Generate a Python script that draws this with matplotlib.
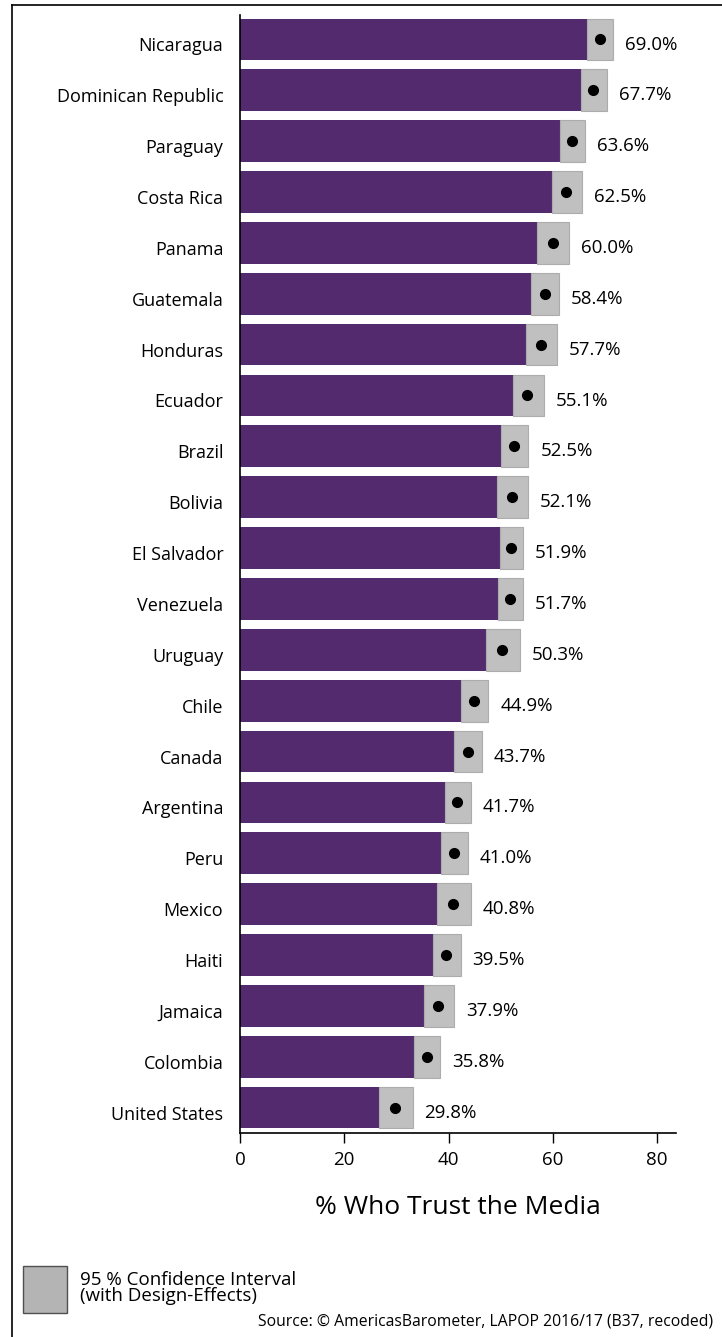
import matplotlib
matplotlib.use("Agg")
import matplotlib.pyplot as plt
from matplotlib.lines import Line2D
from matplotlib.patches import Rectangle
from matplotlib.transforms import ScaledTranslation

plt.rcParams['font.family'] = ['Open Sans', 'DejaVu Sans']

# Data (top to bottom)
countries = ['Nicaragua', 'Dominican Republic', 'Paraguay', 'Costa Rica', 'Panama',
             'Guatemala', 'Honduras', 'Ecuador', 'Brazil', 'Bolivia', 'El Salvador',
             'Venezuela', 'Uruguay', 'Chile', 'Canada', 'Argentina', 'Peru', 'Mexico',
             'Haiti', 'Jamaica', 'Colombia', 'United States']
trust = [69.0, 67.7, 63.6, 62.5, 60.0, 58.4, 57.7, 55.1, 52.5, 52.1, 51.9,
         51.7, 50.3, 44.9, 43.7, 41.7, 41.0, 40.8, 39.5, 37.9, 35.8, 29.8]
ci_low = [66.6, 65.4, 61.3, 59.8, 57.0, 55.8, 54.8, 52.3, 50.0, 49.3, 49.8,
          49.4, 47.2, 42.4, 41.1, 39.3, 38.5, 37.7, 37.1, 35.2, 33.4, 26.6]
ci_high = [71.6, 70.3, 66.2, 65.6, 63.1, 61.2, 60.7, 58.3, 55.3, 55.2, 54.2,
           54.3, 53.7, 47.6, 46.4, 44.2, 43.7, 44.2, 42.3, 41.0, 38.3, 33.1]
x_ticks = [0, 20, 40, 60, 80]

purple = '#532a6e'
grey = '#c0c0c0'

fig = plt.figure(figsize=(7.22, 13.37), dpi=100)
ax = fig.add_axes([240 / 722, 1 - 1133 / 1337, 436 / 722, 1118 / 1337])

ypos = list(range(len(countries)))
ci_width = [h - l for l, h in zip(ci_low, ci_high)]

ax.barh(ypos, trust, height=0.82, color=purple, zorder=2)
ax.barh(ypos, ci_width, left=ci_low, height=0.82, color=grey,
        edgecolor='#acacac', linewidth=0.8, zorder=3)
ax.plot(trust, ypos, 'o', color='black', markersize=7, zorder=4)

for y, v, h in zip(ypos, trust, ci_high):
    ax.text(h + 2.3, y + 0.1, f'{v:.1f}%', va='center', ha='left', fontsize=13.5)

ax.set_ylim(len(countries) - 0.5, -0.48)
ax.set_xlim(0, 83.6)
ax.set_yticks(ypos)
ax.set_yticklabels(countries, fontsize=13)
ax.set_xticks(x_ticks)
ax.set_xticklabels([str(t) for t in x_ticks], fontsize=13.5)
ax.tick_params(axis='y', length=0, pad=12)
ax.tick_params(axis='x', length=7, width=1, pad=6)
for lbl in ax.get_yticklabels():
    lbl.set_transform(lbl.get_transform() + ScaledTranslation(0, -0.05, fig.dpi_scale_trans))

for side in ['top', 'right']:
    ax.spines[side].set_visible(False)
ax.spines['left'].set_linewidth(1.2)
ax.spines['bottom'].set_linewidth(1.2)

fig.text(458 / 722, 1 - 1208 / 1337, '% Who Trust the Media', ha='center', va='center', fontsize=19)

# legend box for the confidence interval
fig.patches.append(Rectangle((23 / 722, 1 - 1313 / 1337), 44 / 722, 47 / 1337,
                             transform=fig.transFigure, facecolor='#b4b4b4',
                             edgecolor='#505050', linewidth=1))
fig.text(80 / 722, 1 - 1288 / 1337, '95 % Confidence Interval\n(with Design-Effects)',
         ha='left', va='center', fontsize=13.5, linespacing=0.9)
fig.text(713 / 722, 1 - 1322 / 1337,
         'Source: \u00a9 AmericasBarometer, LAPOP 2016/17 (B37, recoded)',
         ha='right', va='center', fontsize=11.3)

# outer frame (left and top edges)
fig.add_artist(Line2D([12 / 722, 12 / 722], [0, 1 - 5 / 1337], transform=fig.transFigure,
                      color='black', linewidth=1.2))
fig.add_artist(Line2D([12 / 722, 1], [1 - 5 / 1337, 1 - 5 / 1337], transform=fig.transFigure,
                      color='black', linewidth=1.2))

fig.savefig('out.png', dpi=100)
